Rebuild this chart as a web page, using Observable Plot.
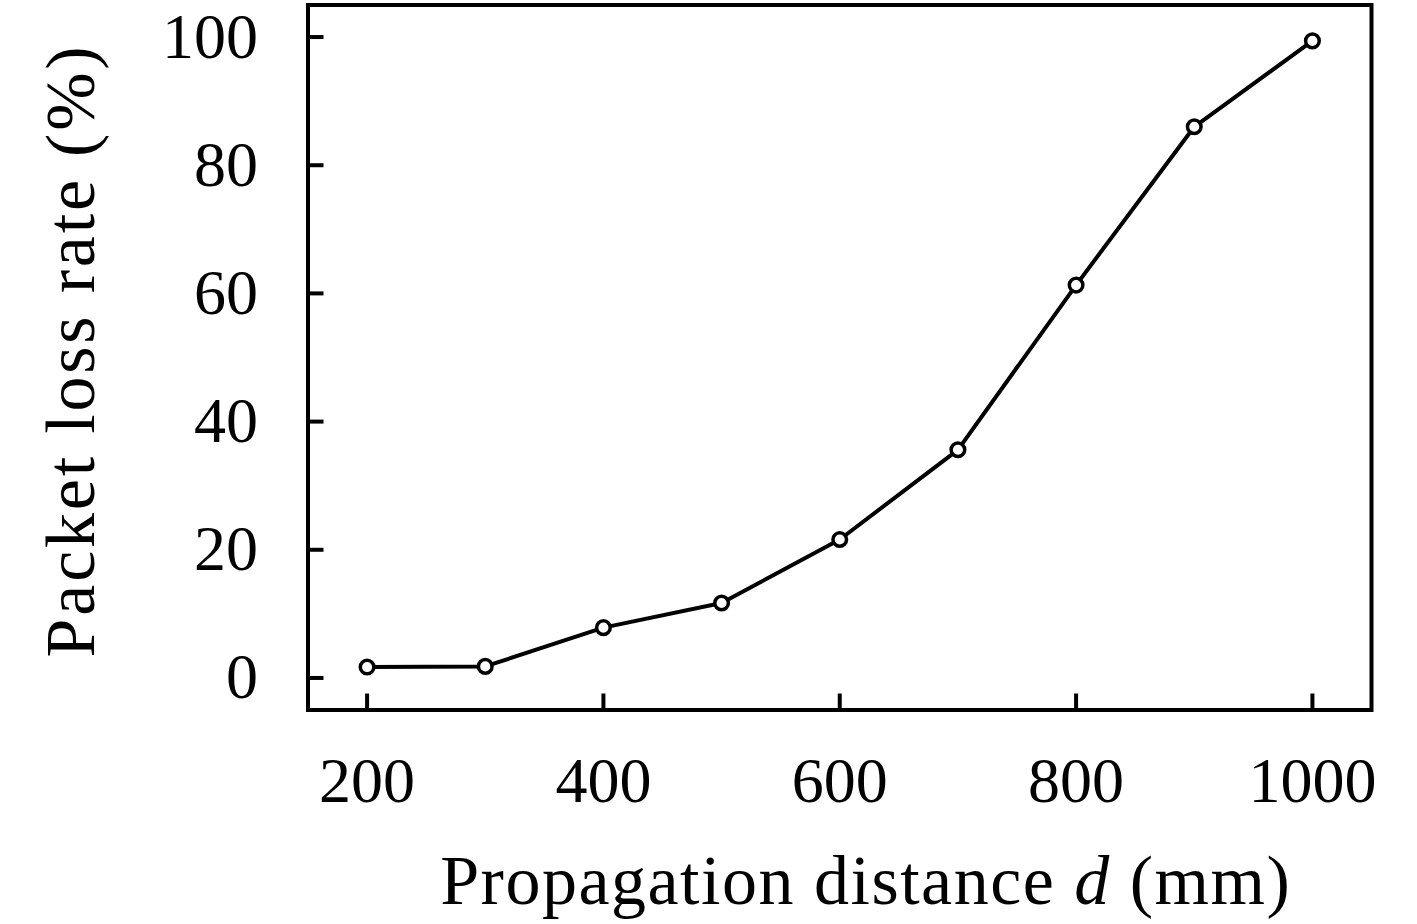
<!DOCTYPE html>
<html>
<head>
<meta charset="utf-8">
<script src="https://cdn.jsdelivr.net/npm/d3@7"></script>
<script src="https://cdn.jsdelivr.net/npm/@observablehq/plot@0.6"></script>
<style>
  html, body { margin: 0; padding: 0; background: #fff; }
  svg { display: block; }
</style>
</head>
<body>
<div id="chart"></div>
<script>
const distance = [200, 300, 400, 500, 600, 700, 800, 900, 1000];
const lossRate = [1.7, 1.8, 7.85, 11.7, 21.6, 35.6, 61.3, 86.0, 99.4];
const xTicks = [200, 400, 600, 800, 1000];
const yTicks = [0, 20, 40, 60, 80, 100];
const xLabel = "Propagation distance d (mm)";
const yLabel = "Packet loss rate (%)";

const data = distance.map((d, i) => ({d, p: lossRate[i]}));

const W = 1417, H = 924;
const mL = 307.5, mR = 46, mT = 4.5, mB = 924 - 709.5;
const innerW = W - mL - mR, innerH = H - mT - mB;
const FONT = "Liberation Serif, DejaVu Serif, serif";
const FS = 64;
const LFS = 70;

const chart = Plot.plot({
  width: W,
  height: H,
  marginLeft: mL,
  marginRight: mR,
  marginTop: mT,
  marginBottom: mB,
  style: {fontFamily: FONT, background: "#fff", color: "#000"},
  x: {domain: [150, 1050]},
  y: {domain: [-5, 105]},
  marks: [
    Plot.axisX({ticks: xTicks, tickSize: 0, tickPadding: 47, fontSize: FS, label: null, tickFormat: d => String(d)}),
    Plot.axisY({ticks: yTicks, tickSize: 0, tickPadding: 50, fontSize: FS, label: null, tickFormat: d => String(d)}),
    Plot.ruleX(xTicks, {x: d => d, stroke: "#000", strokeWidth: 4, insetTop: innerH - 16}),
    Plot.ruleY(yTicks, {y: d => d, stroke: "#000", strokeWidth: 4, insetRight: innerW - 16}),
    Plot.frame({stroke: "#000", strokeWidth: 4}),
    Plot.line(data, {x: "d", y: "p", stroke: "#000", strokeWidth: 4}),
    Plot.dot(data, {x: "d", y: "p", r: 6.8, stroke: "#000", strokeWidth: 3.5, fill: "#fff"}),
    Plot.text([xLabel], {text: d => d, frameAnchor: "bottom", textAnchor: "middle", dx: 26, dy: 194, fontSize: LFS, fill: "#000", className: "xlab"}),
    Plot.text([yLabel], {text: d => d, frameAnchor: "left", textAnchor: "middle", rotate: -90, dx: -236, dy: -7, fontSize: LFS, fill: "#000", className: "ylab"})
  ]
});

chart.querySelectorAll("g.xlab text").forEach(t => t.setAttribute("letter-spacing", "1.5"));
chart.querySelectorAll("g.ylab text").forEach(t => t.setAttribute("letter-spacing", "2.8"));

// italicize the variable "d" in the x label
const xl = chart.querySelector("g.xlab text");
if (xl) {
  xl.textContent = "";
  const parts = [["Propagation distance ", "normal"], ["d", "italic"], [" (mm)", "normal"]];
  for (const [t, s] of parts) {
    const ts = document.createElementNS("http://www.w3.org/2000/svg", "tspan");
    ts.textContent = t;
    ts.setAttribute("font-style", s);
    xl.appendChild(ts);
  }
}

document.getElementById("chart").appendChild(chart);
</script>
</body>
</html>
